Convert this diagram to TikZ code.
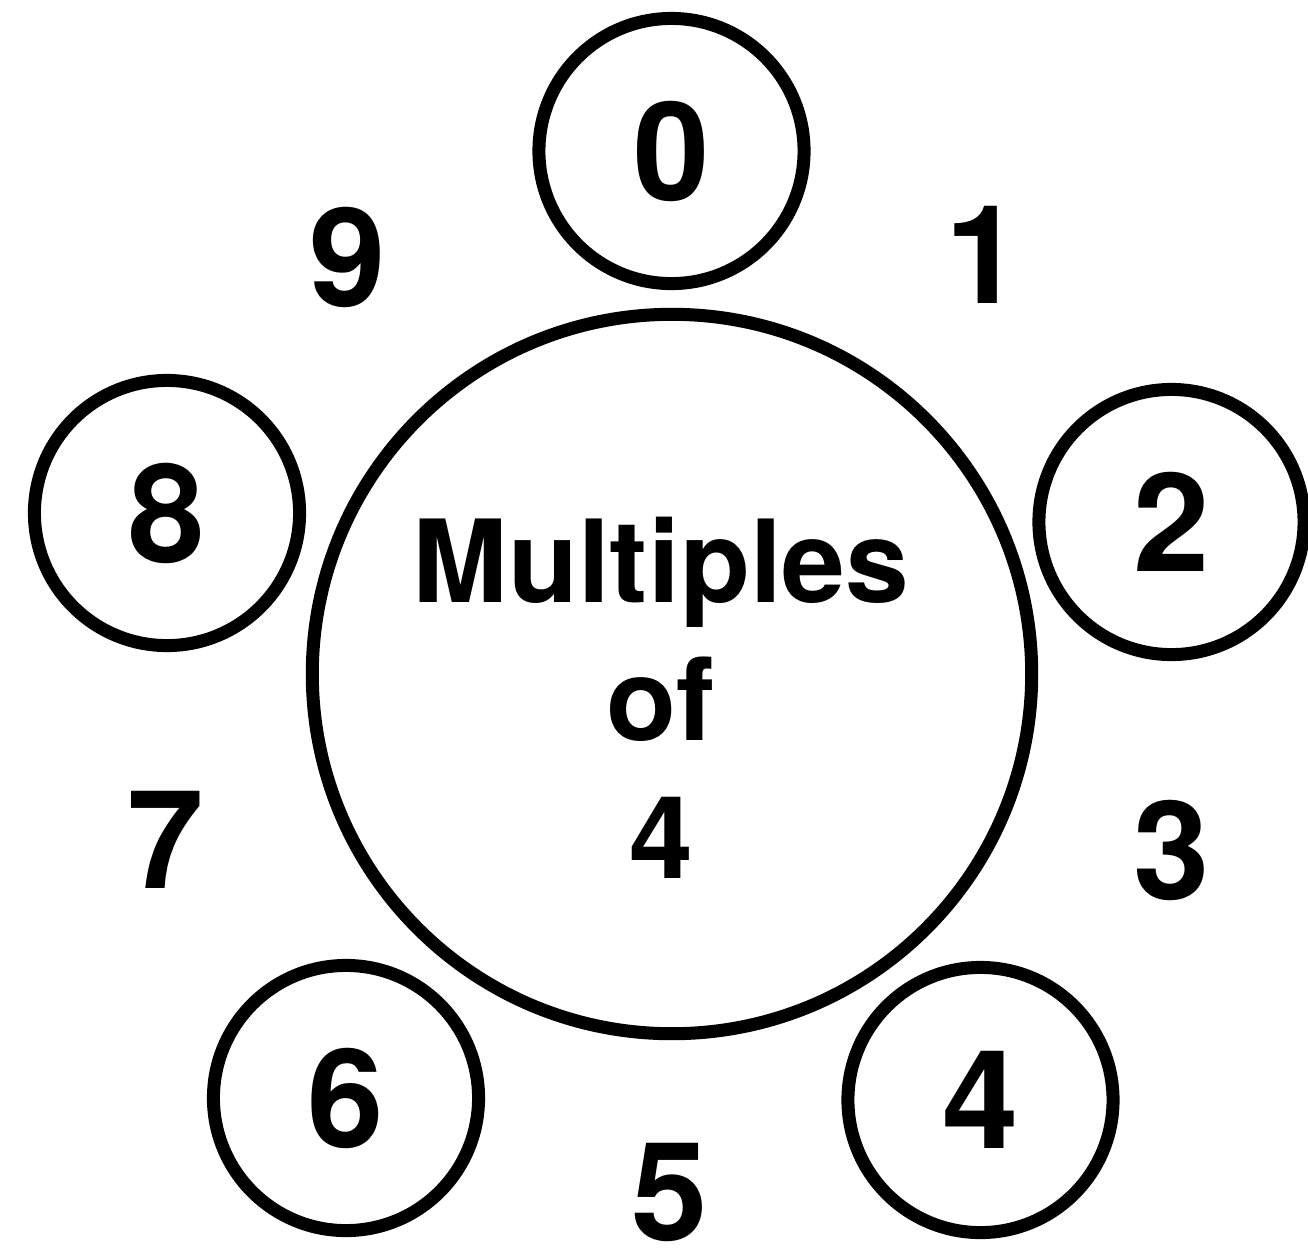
\documentclass[tikz,border=0pt]{standalone}
\usepackage{fontspec}
\setmainfont{TeX Gyre Heros}
\usetikzlibrary{positioning}
\tikzset{
  ring/.style={draw, circle, line width=0.13cm, minimum size=2.65cm, inner sep=0pt},
  digit/.style={font=\fontsize{39}{39}\selectfont\bfseries, inner sep=0pt},
}
\begin{document}
\begin{tikzpicture}[x=0.01cm, y=-0.01cm]
  \useasboundingbox (0,0) rectangle (1308,1250);
  % big ring and its title
  \node[ring, minimum size=7.19cm] (mult) at (672,674) {};
  \node[align=center, inner sep=0pt, font=\fontsize{32.6}{39.3}\selectfont\bfseries] (title) at (661,698) {Multiples\\of\\4};
  % circled digits
  \node[ring, digit] (d0) at (671.5,151) {0};
  \node[ring, digit] (d2) at (1171.5,522) {2};
  \node[ring, digit] (d4) at (980.5,1100) {4};
  \node[ring, digit] (d6) at (346,1098) {6};
  \node[ring, digit] (d8) at (167,513) {8};
  % plain digits
  \node[digit] (d1) at (984,255) {1};
  \node[digit] (d3) at (1172,850) {3};
  \node[digit] (d5) at (670,1192) {5};
  \node[digit] (d7) at (166,840) {7};
  \node[digit] (d9) at (348,257) {9};
\end{tikzpicture}
\end{document}
